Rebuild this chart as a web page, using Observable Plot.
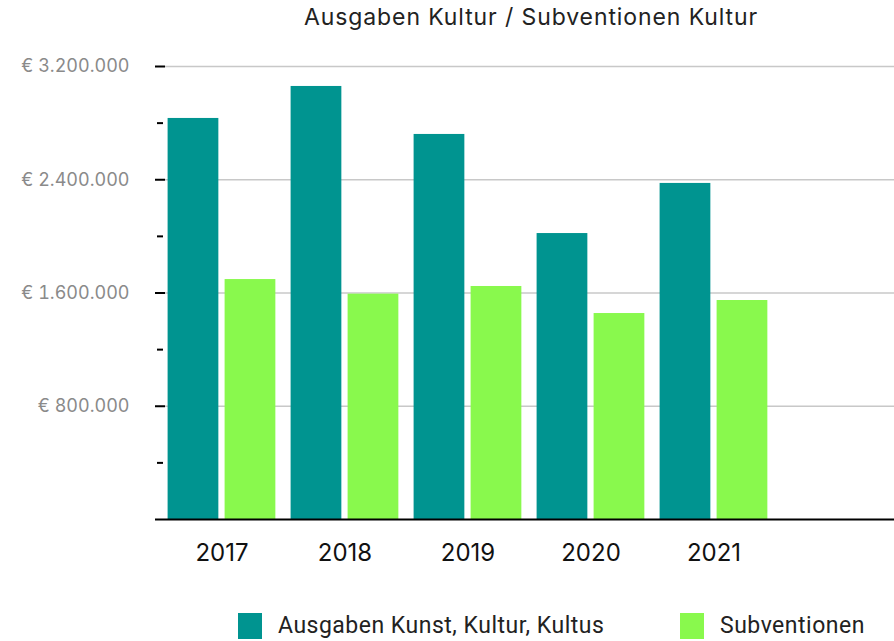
<!DOCTYPE html>
<html>
<head>
<meta charset="utf-8">
<script src="https://cdn.jsdelivr.net/npm/d3@7"></script>
<script src="https://cdn.jsdelivr.net/npm/@observablehq/plot@0.6"></script>
<style>
  html, body { margin: 0; padding: 0; background: #fff; }
  #wrap { position: relative; width: 894px; height: 641px; overflow: hidden; font-family: Roboto, "Noto Sans", sans-serif; }
  #title { position: absolute; left: 0; top: 3px; width: 1062px; text-align: center; font-family: Inter, Roboto, sans-serif; font-size: 23px; letter-spacing: 0.9px; color: #222; }
  #legend { position: absolute; top: 612px; left: 0; width: 894px; height: 30px; font-size: 23px; letter-spacing: 0.5px; color: #222; }
  .item { position: absolute; top: 0; display: flex; align-items: center; }
  .sw { width: 24px; height: 26px; margin-right: 16px; }
  #chart { position: absolute; left: 0; top: 0; }
</style>
</head>
<body>
<div id="wrap">
  <div id="chart"></div>
  <div id="title"></div>
  <div id="legend"></div>
</div>
<script>
const title = "Ausgaben Kultur / Subventionen Kultur";
const years = ["2017", "2018", "2019", "2020", "2021"];
const seriesNames = ["Ausgaben Kunst, Kultur, Kultus", "Subventionen"];
const ausgaben = [2833000, 3059000, 2720000, 2020000, 2374000];
const subventionen = [1695000, 1592000, 1646000, 1455000, 1547000];
const majorTicks = [800000, 1600000, 2400000, 3200000];
const minorTicks = [400000, 1200000, 2000000, 2800000];
const colors = ["#009490", "#89f94d"];

const rows = years.map((y, i) => ({year: y, ausgaben: ausgaben[i], subventionen: subventionen[i]}));
const fmt = v => "€ " + d3.format(",")(v).replace(/,/g, ".");

const chart = Plot.plot({
  width: 894,
  height: 641,
  marginTop: 66,
  marginBottom: 122,
  marginLeft: 165,
  marginRight: 0,
  style: {fontFamily: "Inter, Roboto, sans-serif", background: "#fff"},
  x: {type: "band", domain: years, range: [159.4, 775.6], padding: 0},
  y: {domain: [0, 3200000], range: [519, 66]},
  marks: [
    Plot.gridY(majorTicks, {stroke: "#c8c8c8", strokeOpacity: 1, strokeWidth: 1.3}),
    Plot.barY(rows, {x: "year", y: "ausgaben", fill: colors[0], insetLeft: 7.6, insetRight: 64.65}),
    Plot.barY(rows, {x: "year", y: "subventionen", fill: colors[1], insetLeft: 64.6, insetRight: 7.65}),
    Plot.ruleY([0], {stroke: "#000", strokeWidth: 2.2, insetLeft: -10}),
    Plot.axisY(majorTicks, {tickSize: 10, tickPadding: 26, strokeWidth: 2, stroke: "#000", tickFormat: fmt, fill: "#8a8a8a", fontSize: 18}),
    Plot.axisY(minorTicks, {tickSize: 6, dx: -2, strokeWidth: 2, stroke: "#000", tickFormat: () => ""}),
    Plot.axisX(years, {tickSize: 0, tickPadding: 24, fontSize: 24, fill: "#111", label: null, style: "letter-spacing:0.5px"})
  ]
});
document.getElementById("chart").appendChild(chart);
document.getElementById("title").textContent = title;

const legend = document.getElementById("legend");
const lefts = [238, 680];
seriesNames.forEach((name, i) => {
  const it = document.createElement("div");
  it.className = "item";
  it.style.left = lefts[i] + "px";
  const sw = document.createElement("div");
  sw.className = "sw";
  sw.style.background = colors[i];
  const tx = document.createElement("span");
  tx.textContent = name;
  it.appendChild(sw);
  it.appendChild(tx);
  legend.appendChild(it);
});
</script>
</body>
</html>
